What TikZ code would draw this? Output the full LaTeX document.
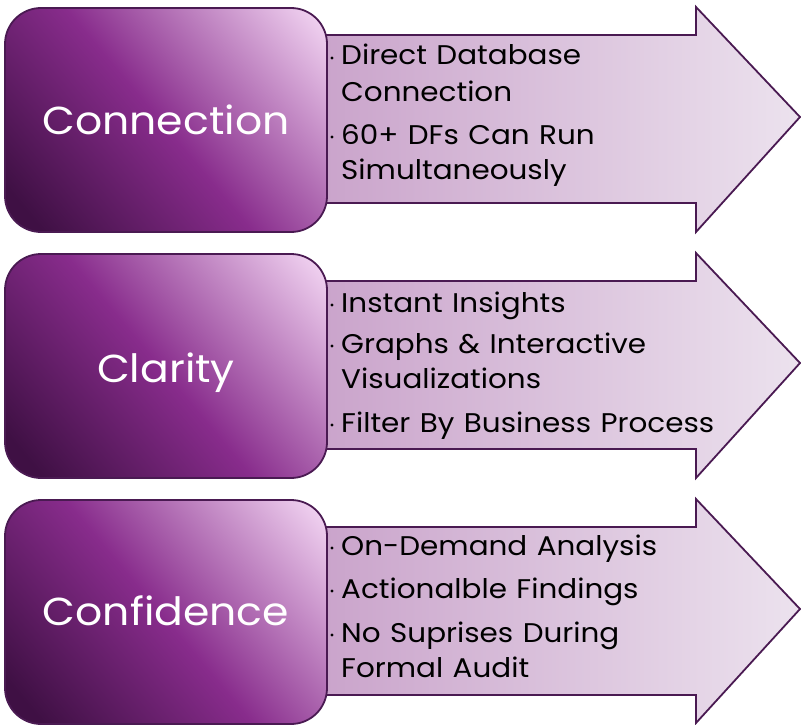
\documentclass[tikz,border=0pt]{standalone}
\usepackage{fontspec}
\setmainfont{Poppins}[FakeStretch=1.09, WordSpace=1.2]
\definecolor{bxdark}{HTML}{3F1044}
\definecolor{bxmid}{HTML}{882C8C}
\definecolor{bxlight}{HTML}{F3D6F3}
\definecolor{arL}{HTML}{C9A2CA}
\definecolor{arR}{HTML}{ECE2EE}
\definecolor{edgec}{HTML}{4A1A52}
\pgfdeclarehorizontalshading{boxshade}{100bp}{color(0bp)=(bxdark); color(20bp)=(bxdark); color(49bp)=(bxmid); color(84bp)=(bxlight); color(100bp)=(bxlight)}
\tikzset{
  bigbox/.style={draw=edgec, line width=1.8pt, rounded corners=36pt, shading=boxshade, shading angle=40, minimum width=322pt, minimum height=224pt, inner sep=0pt},
  arrowshape/.style={draw=edgec, line width=1.8pt, left color=arL, right color=arR},
  titletext/.style={text=white, font=\fontsize{39}{39}\selectfont, anchor=base, inner sep=0pt},
  itemtext/.style={anchor=base west, inner sep=0pt, font=\fontsize{27}{27}\selectfont, text=black},
  bulletdot/.style={circle, fill=black, inner sep=0pt, minimum size=3.4pt}
}
\begin{document}
\begin{tikzpicture}[x=1pt, y=-1pt]
\useasboundingbox (0,0) rectangle (801,725);
% ---------- row 1
\draw[arrowshape] (310,35) -- (696,35) -- (696,7) -- (800,117) -- (696,232) -- (696,203) -- (310,203) -- cycle;
\node[bigbox] (b1) at (166,120) {};
\node[titletext] (t1) at (166,135) {Connection};
\node[itemtext] (i11) at (341,65) {Direct Database};
\node[itemtext] (i12) at (341,102) {Connection};
\node[itemtext] (i13) at (341,144) {60+ DFs Can Run};
\node[itemtext] (i14) at (341,179) {Simultaneously};
\node[bulletdot] (d11) at (332,58) {};
\node[bulletdot] (d13) at (332,137) {};
% ---------- row 2
\begin{scope}[yshift=-246pt]
\draw[arrowshape] (310,35) -- (696,35) -- (696,7) -- (800,117) -- (696,232) -- (696,203) -- (310,203) -- cycle;
\node[bigbox] (b2) at (166,120) {};
\node[titletext] (t2) at (166,136) {Clarity};
\node[itemtext] (i21) at (341,66) {Instant Insights};
\node[itemtext] (i22) at (341,107) {Graphs \& Interactive};
\node[itemtext] (i23) at (341,142) {Visualizations};
\node[itemtext] (i24) at (341,186) {Filter By Business Process};
\node[bulletdot] (d21) at (332,59) {};
\node[bulletdot] (d22) at (332,100) {};
\node[bulletdot] (d24) at (332,179) {};
\end{scope}
% ---------- row 3
\begin{scope}[yshift=-492pt]
\draw[arrowshape] (310,35) -- (696,35) -- (696,7) -- (800,117) -- (696,231) -- (696,203) -- (310,203) -- cycle;
\node[bigbox] (b3) at (166,120) {};
\node[titletext] (t3) at (166,133) {Confidence};
\node[itemtext] (i31) at (341,63) {On-Demand Analysis};
\node[itemtext] (i32) at (341,106) {Actionalble Findings};
\node[itemtext] (i33) at (341,150) {No Suprises During};
\node[itemtext] (i34) at (341,185) {Formal Audit};
\node[bulletdot] (d31) at (332,56) {};
\node[bulletdot] (d32) at (332,99) {};
\node[bulletdot] (d33) at (332,143) {};
\end{scope}
\end{tikzpicture}
\end{document}
